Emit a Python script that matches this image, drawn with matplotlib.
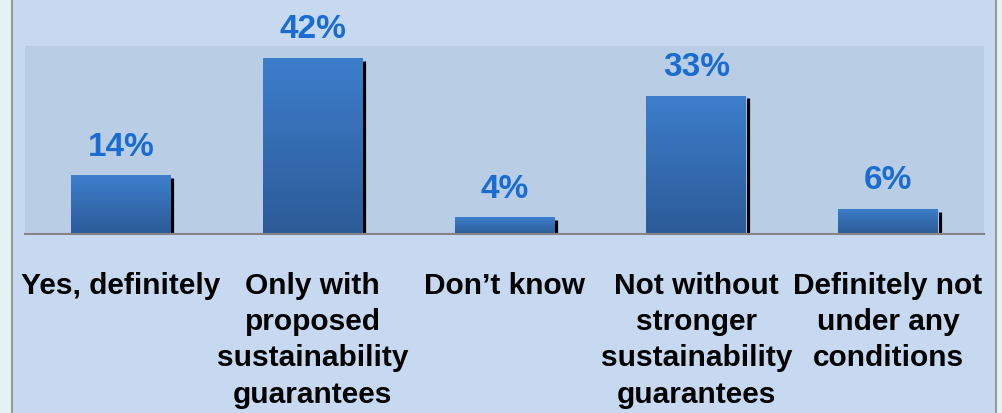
import matplotlib.pyplot as plt
import numpy as np
from matplotlib.patches import Rectangle

categories = [
    "Yes, definitely",
    "Only with\nproposed\nsustainability\nguarantees",
    "Don\u2019t know",
    "Not without\nstronger\nsustainability\nguarantees",
    "Definitely not\nunder any\nconditions",
]
values = [14, 42, 4, 33, 6]

plt.rcParams['font.family'] = ['Liberation Sans', 'DejaVu Sans']

W, H = 1003, 414
fig = plt.figure(figsize=(W / 100, H / 100), dpi=100)
fig.patch.set_facecolor('#e3f3f3')

# panel background with thin grey frame
panel = Rectangle((12 / W, -0.01), (996 - 12) / W, 1.02, transform=fig.transFigure,
                  facecolor='#c6d9f0', edgecolor='#8c8c8c', linewidth=1.2, zorder=-1)
fig.patches.append(panel)

ax = fig.add_axes([25 / W, (H - 235) / H, (984 - 25) / W, 188 / H])
ax.set_facecolor('#b9cde4')

x = np.arange(len(values))
width = 0.52
bars = ax.bar(x, values, width, facecolor='none', edgecolor='none', zorder=2)

# vertical gradient fill for each bar
grad = np.linspace(0, 1, 256).reshape(-1, 1)
cmap = plt.matplotlib.colors.LinearSegmentedColormap.from_list('bar', ['#2c5b97', '#3d7ecc'])
for b in bars:
    x0, w, h = b.get_x(), b.get_width(), b.get_height()
    im = ax.imshow(grad, cmap=cmap, origin='lower', aspect='auto',
                   extent=(x0, x0 + w, 0, h), zorder=2)
    im.set_clip_path(b)

# dark shadow line on the right edge of each bar
for xi, v in zip(x, values):
    ax.plot([xi + width / 2 + 0.008] * 2, [0, v - 0.7], color='black',
            linewidth=2.3, solid_capstyle='butt', zorder=1.5)
    ax.text(xi, v + 6.9, f"{v}%", ha='center', va='center', fontsize=24,
            fontweight='bold', color='#1a6cd0', clip_on=False)

for xi, lab in zip(x, categories):
    ax.text(xi, -8.7, lab, ha='center', va='top', fontsize=21.5,
            fontweight='bold', color='black', linespacing=1.38, clip_on=False)

ax.set_xlim(-0.5, 4.5)
ax.set_ylim(0, 44.8)
ax.set_xticks([])
ax.set_yticks([])
for s in ['top', 'left', 'right']:
    ax.spines[s].set_visible(False)
ax.spines['bottom'].set_color('#858585')
ax.spines['bottom'].set_linewidth(1.5)

fig.savefig('out.png', dpi=100, facecolor=fig.get_facecolor())
